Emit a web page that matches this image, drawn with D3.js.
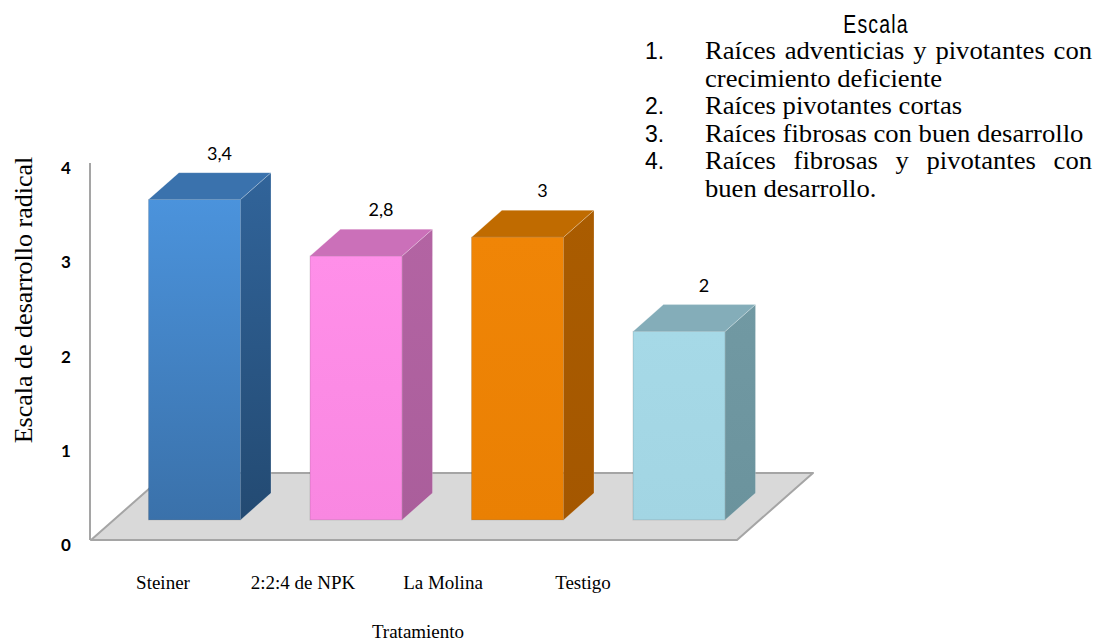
<!DOCTYPE html>
<html>
<head>
<meta charset="utf-8">
<script src="https://cdn.jsdelivr.net/npm/d3@7"></script>
<style>
  html, body { margin: 0; padding: 0; background: #fff; }
  svg { display: block; }
</style>
</head>
<body>
<svg id="chart" width="1108" height="643"></svg>
<script>
// Treatments and their root-development score
const categories = ["Steiner", "2:2:4 de NPK", "La Molina", "Testigo"];
const values = [3.4, 2.8, 3, 2];
const valueLabels = ["3,4", "2,8", "3", "2"];
const yTicks = [0, 1, 2, 3, 4];

// Colours per bar: front, top, side
const frontColors = [["#4b93dc", "#3a71aa"], ["#ff8fe9", "#f987e1"], ["#f08506", "#ea8003"], ["#a6d9e7", "#a2d5e3"]];
const topColors = ["#3a72ad", "#cb70b9", "#c06b00", "#84adb9"];
const sideColors = [["#31649a", "#234a72"], ["#b364a3", "#aa5e9b"], ["#aa5c00", "#a45700"], ["#7199a3", "#6b939d"]];

// Legend of the scale
const scaleTitle = "Escala";
const scaleItems = [
  { num: "1.", lines: ["Raíces adventicias y pivotantes con", "crecimiento deficiente"] },
  { num: "2.", lines: ["Raíces pivotantes cortas"] },
  { num: "3.", lines: ["Raíces fibrosas con buen desarrollo"] },
  { num: "4.", lines: ["Raíces fibrosas y pivotantes con", "buen desarrollo."] }
];

const svg = d3.select("#chart");
const serif = "'Liberation Serif', 'Times New Roman', serif";

// Floor (front edge) and depth vector of the 3D plot
const floorLeft = 91, floorRight = 737, floorY = 540;
const depth = { dx: 76, dy: -67 };
const barFront = 0.3, barDepth = 0.4;   // fractions of floor depth

const y = d3.scaleLinear().domain([0, 4]).range([floorY, 163]);
const x = d3.scaleBand().domain(categories)
  .range([floorLeft, floorRight])
  .paddingInner(0.43).paddingOuter(0.215);

// Gradients
const defs = svg.append("defs");
categories.forEach((c, i) => {
  const gf = defs.append("linearGradient").attr("id", "front" + i)
    .attr("x1", 0).attr("y1", 0).attr("x2", 0).attr("y2", 1);
  gf.append("stop").attr("offset", "0%").attr("stop-color", frontColors[i][0]);
  gf.append("stop").attr("offset", "100%").attr("stop-color", frontColors[i][1]);
  const gs = defs.append("linearGradient").attr("id", "side" + i)
    .attr("x1", 0).attr("y1", 0).attr("x2", 0).attr("y2", 1);
  gs.append("stop").attr("offset", "0%").attr("stop-color", sideColors[i][0]);
  gs.append("stop").attr("offset", "100%").attr("stop-color", sideColors[i][1]);
});

// Floor
const floorPts = [
  [floorLeft, floorY], [floorRight, floorY],
  [floorRight + depth.dx, floorY + depth.dy], [floorLeft + depth.dx, floorY + depth.dy]
];
svg.append("polygon")
  .attr("points", floorPts.map(p => p.join(",")).join(" "))
  .attr("fill", "#d9d9d9")
  .attr("stroke", "#a5a5a5").attr("stroke-width", 2).attr("stroke-linejoin", "round");

// Vertical axis line
svg.append("line")
  .attr("x1", floorLeft - 1).attr("x2", floorLeft - 1)
  .attr("y1", y(4)).attr("y2", floorY)
  .attr("stroke", "#a5a5a5").attr("stroke-width", 2);

// Y tick labels
svg.append("g").selectAll("text").data(yTicks).join("text")
  .attr("x", 66).attr("y", d => y(d) + 11)
  .attr("text-anchor", "middle")
  .attr("font-family", "Lato, 'Open Sans', sans-serif")
  .attr("font-weight", "bold").attr("font-size", 17).attr("fill", "#000")
  .text(d => d);

// Bars
const fdx = depth.dx * barFront, fdy = depth.dy * barFront;
const bdx = depth.dx * barDepth, bdy = depth.dy * barDepth;
const bars = svg.append("g").selectAll("g").data(categories).join("g");
bars.each(function(c, i) {
  const g = d3.select(this);
  const x0 = x(c) + fdx, x1 = x0 + x.bandwidth();
  const yb = y(0) + fdy, yt = y(values[i]) + fdy;
  // side face
  g.append("polygon")
    .attr("points", [[x1, yt], [x1 + bdx, yt + bdy], [x1 + bdx, yb + bdy], [x1, yb]].map(p => p.join(",")).join(" "))
    .attr("fill", `url(#side${i})`)
    .attr("stroke", "rgba(255,255,255,0.25)").attr("stroke-width", 0.8);
  // top face
  g.append("polygon")
    .attr("points", [[x0, yt], [x0 + bdx, yt + bdy], [x1 + bdx, yt + bdy], [x1, yt]].map(p => p.join(",")).join(" "))
    .attr("fill", topColors[i])
    .attr("stroke", "rgba(255,255,255,0.3)").attr("stroke-width", 0.8);
  // front face
  g.append("rect")
    .attr("x", x0).attr("y", yt)
    .attr("width", x.bandwidth()).attr("height", yb - yt)
    .attr("fill", `url(#front${i})`)
    .attr("stroke", "rgba(0,0,0,0.12)").attr("stroke-width", 1);
  // value label
  g.append("text")
    .attr("x", x0 + x.bandwidth() / 2 + 25)
    .attr("y", yt + bdy - 13)
    .attr("text-anchor", "middle")
    .attr("font-family", "Lato, sans-serif")
    .attr("font-size", 18).attr("fill", "#000")
    .text(valueLabels[i]);
});

// Category labels below the floor
const xl = d3.scaleBand().domain(categories).range([93, 653]);
svg.append("g").selectAll("text").data(categories).join("text")
  .attr("x", d => xl(d) + xl.bandwidth() / 2)
  .attr("y", 589)
  .attr("text-anchor", "middle")
  .attr("font-family", serif)
  .attr("font-size", 19).attr("fill", "#000")
  .text(d => d);

// Axis titles
svg.append("text")
  .attr("x", 418).attr("y", 638)
  .attr("text-anchor", "middle")
  .attr("font-family", serif)
  .attr("font-size", 19).attr("fill", "#000")
  .text("Tratamiento");

svg.append("text")
  .attr("transform", "translate(32,300) rotate(-90)")
  .attr("text-anchor", "middle")
  .attr("font-family", serif)
  .attr("font-size", 26).attr("fill", "#000")
  .text("Escala de desarrollo radical");

// Scale legend
const lg = svg.append("g");
lg.append("text")
  .attr("transform", "translate(876,33) scale(0.78,1)")
  .attr("text-anchor", "middle")
  .attr("font-family", "'Liberation Sans', Arial, sans-serif")
  .attr("font-size", 25).attr("letter-spacing", 1.5).attr("fill", "#000")
  .text(scaleTitle);

const textLeft = 705, textRight = 1092, stretch = 1.065;
const rowY = r => 59 + r * 27.5;
let row = 0;
scaleItems.forEach(item => {
  lg.append("text")
    .attr("x", 645).attr("y", rowY(row))
    .attr("font-family", "'Liberation Sans', Arial, sans-serif")
    .attr("font-size", 23).attr("fill", "#000")
    .text(item.num);
  item.lines.forEach((line, j) => {
    const t = lg.append("text")
      .attr("transform", `translate(${textLeft},${rowY(row)}) scale(${stretch},1)`)
      .attr("font-family", serif)
      .attr("font-size", 25).attr("fill", "#000")
      .text(line);
    // justified first line of multi-line items: spread the words
    if (j < item.lines.length - 1) {
      const natural = t.node().getComputedTextLength();
      const gaps = line.split(" ").length - 1;
      const target = (textRight - textLeft) / stretch;
      t.attr("word-spacing", (target - natural) / gaps);
    }
    row++;
  });
});
</script>
</body>
</html>
